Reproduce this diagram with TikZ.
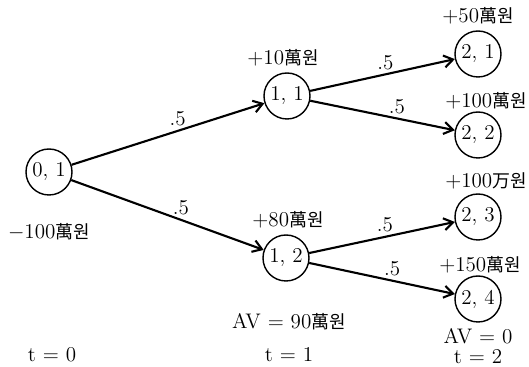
\documentclass[tikz,border=0pt]{standalone}
\usepackage{fontspec}
\newfontfamily\cjk[Scale=0.85]{Noto Sans CJK KR}
\usetikzlibrary{arrows.meta, positioning}
\newcommand{\manwon}{{\cjk 萬원}}

\begin{document}
\begin{tikzpicture}[
      state/.style={draw, circle, thick, minimum size=9.2mm, inner sep=0pt, on grid},
      val/.style={inner sep=1pt},
      prob/.style={above, inner sep=2pt},
      arr/.style={-{Straight Barb[length=1.8mm, width=2.4mm]}, line width=1.2pt},
      font=\fontsize{12}{14}\selectfont
    ]
    \useasboundingbox (0,0) rectangle (105.8mm,-73.4mm);

    \node[state] (n01) at (9.8mm,-34.4mm) {0, 1};
    \node[state, above right=15.2mm and 47.6mm of n01] (n11) {1, 1};
    \node[state, below right=17.2mm and 47.4mm of n01] (n12) {1, 2};
    \node[state, above right=8.4mm and 38.2mm of n11] (n21) {2, 1};
    \node[state, below right=7.8mm and 38.2mm of n11] (n22) {2, 2};
    \node[state, above right=8.2mm and 38.4mm of n12] (n23) {2, 3};
    \node[state, below right=8.2mm and 38.4mm of n12] (n24) {2, 4};

    \node[val, below=5.2mm of n01] (v01) {$-$100\manwon};
    \node[val, above=0.8mm of n11, xshift=-0.8mm] (v11) {$+$10\manwon};
    \node[val, above=0.8mm of n12, xshift=0.4mm] (v12) {$+$80\manwon};
    \node[val, above=0.8mm of n21] (v21) {$+$50\manwon};
    \node[val, above=0.1mm of n22, xshift=1.6mm] (v22) {$+$100\manwon};
    \node[val, above=0.4mm of n23, xshift=1.6mm] (v23) {$+$100{\cjk 万원}};
    \node[val, above=0pt of n24, xshift=0.4mm] (v24) {$+$150\manwon};

    \node[val, below=6mm of n12, xshift=0.6mm] (av1) {AV $=$ 90\manwon};
    \node[val, below=2.6mm of av1] (t1) {t $=$ 1};
    \node[val, xshift=0.6mm] (t0) at (n01 |- t1) {t $=$ 0};
    \node[val, below=0.8mm of n24] (av2) {AV $=$ 0};
    \node[val, below=0.2mm of av2] (t2) {t $=$ 2};

    \draw[arr] (n01) -- node[prob, pos=0.55] {.5} (n11);
    \draw[arr] (n01) -- node[prob, pos=0.57] {.5} (n12);
    \draw[arr] (n11) -- node[prob, pos=0.52] {.5} (n21);
    \draw[arr] (n11) -- node[prob, pos=0.6] {.5} (n22);
    \draw[arr] (n12) -- node[prob, pos=0.52] {.5} (n23);
    \draw[arr] (n12) -- node[prob, pos=0.57] {.5} (n24);
  \end{tikzpicture}
\end{document}
